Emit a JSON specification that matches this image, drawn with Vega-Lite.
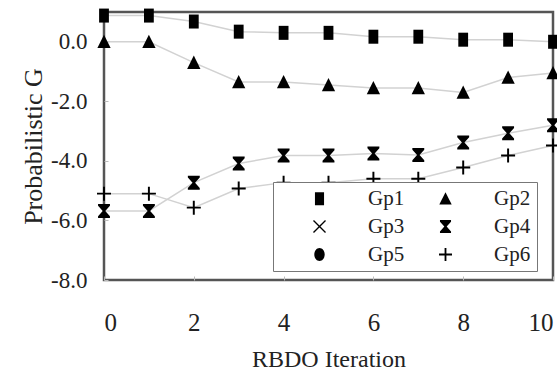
{
  "$schema": "https://vega.github.io/schema/vega-lite/v6.json",
  "width": 449,
  "height": 268,
  "autosize": {"type": "none"},
  "padding": {"left": 104, "top": 12, "right": 4, "bottom": 92},
  "background": "white",
  "config": {
    "view": {"stroke": "#555", "strokeWidth": 2.5},
    "font": "Liberation Serif",
    "axis": {
      "grid": false,
      "domain": false,
      "labelFont": "Liberation Serif",
      "titleFont": "Liberation Serif",
      "labelColor": "#222",
      "titleColor": "#222",
      "titleFontWeight": "normal",
      "tickColor": "#bbb",
      "tickSize": -4,
      "tickWidth": 1
    }
  },
  "data": {
    "values": [
      {"iter": 0, "series": "Gp1", "g": 0.88},
      {"iter": 1, "series": "Gp1", "g": 0.88},
      {"iter": 2, "series": "Gp1", "g": 0.68},
      {"iter": 3, "series": "Gp1", "g": 0.34},
      {"iter": 4, "series": "Gp1", "g": 0.3},
      {"iter": 5, "series": "Gp1", "g": 0.3},
      {"iter": 6, "series": "Gp1", "g": 0.17},
      {"iter": 7, "series": "Gp1", "g": 0.17},
      {"iter": 8, "series": "Gp1", "g": 0.07},
      {"iter": 9, "series": "Gp1", "g": 0.07},
      {"iter": 10, "series": "Gp1", "g": 0.0},
      {"iter": 0, "series": "Gp2", "g": 0.0},
      {"iter": 1, "series": "Gp2", "g": 0.0},
      {"iter": 2, "series": "Gp2", "g": -0.7},
      {"iter": 3, "series": "Gp2", "g": -1.35},
      {"iter": 4, "series": "Gp2", "g": -1.35},
      {"iter": 5, "series": "Gp2", "g": -1.45},
      {"iter": 6, "series": "Gp2", "g": -1.55},
      {"iter": 7, "series": "Gp2", "g": -1.55},
      {"iter": 8, "series": "Gp2", "g": -1.7},
      {"iter": 9, "series": "Gp2", "g": -1.2},
      {"iter": 10, "series": "Gp2", "g": -1.05},
      {"iter": 0, "series": "Gp4", "g": -5.68},
      {"iter": 1, "series": "Gp4", "g": -5.68},
      {"iter": 2, "series": "Gp4", "g": -4.73},
      {"iter": 3, "series": "Gp4", "g": -4.09},
      {"iter": 4, "series": "Gp4", "g": -3.82},
      {"iter": 5, "series": "Gp4", "g": -3.82},
      {"iter": 6, "series": "Gp4", "g": -3.75},
      {"iter": 7, "series": "Gp4", "g": -3.8},
      {"iter": 8, "series": "Gp4", "g": -3.38},
      {"iter": 9, "series": "Gp4", "g": -3.07},
      {"iter": 10, "series": "Gp4", "g": -2.8},
      {"iter": 0, "series": "Gp6", "g": -5.1},
      {"iter": 1, "series": "Gp6", "g": -5.1},
      {"iter": 2, "series": "Gp6", "g": -5.57},
      {"iter": 3, "series": "Gp6", "g": -4.93},
      {"iter": 4, "series": "Gp6", "g": -4.73},
      {"iter": 5, "series": "Gp6", "g": -4.73},
      {"iter": 6, "series": "Gp6", "g": -4.6},
      {"iter": 7, "series": "Gp6", "g": -4.6},
      {"iter": 8, "series": "Gp6", "g": -4.22},
      {"iter": 9, "series": "Gp6", "g": -3.82},
      {"iter": 10, "series": "Gp6", "g": -3.48}
    ]
  },
  "encoding": {
    "x": {
      "field": "iter",
      "type": "quantitative",
      "scale": {"domain": [0, 10], "nice": false, "zero": false},
      "axis": {
        "values": [0, 2, 4, 6, 8, 10],
        "title": "RBDO Iteration",
        "labelFontSize": 25,
        "labelPadding": 34,
        "titleFontSize": 24,
        "titlePadding": 12
      }
    },
    "y": {
      "field": "g",
      "type": "quantitative",
      "scale": {"domain": [-8, 1], "nice": false, "zero": false},
      "axis": {
        "values": [-8, -6, -4, -2, 0],
        "labelExpr": "(datum.value < 0 ? '-' : '') + format(abs(datum.value), '.1f')",
        "title": "Probabilistic G",
        "labelFontSize": 23,
        "labelPadding": 21,
        "titleFontSize": 26,
        "titlePadding": 4
      }
    }
  },
  "layer": [
    {
      "mark": {"type": "line", "color": "#d2d2d2", "strokeWidth": 1.5},
      "encoding": {"detail": {"field": "series"}}
    },
    {
      "mark": {"type": "point", "filled": true, "color": "black", "opacity": 1, "size": 196},
      "encoding": {
        "shape": {
          "field": "series",
          "type": "nominal",
          "scale": {
            "domain": ["Gp1", "Gp2", "Gp3", "Gp4", "Gp5", "Gp6"],
            "range": [
              "M-0.7,-1H0.7V1H-0.7Z",
              "M0,-1L0.95,0.9H-0.95Z",
              "M-0.85,-1L0,-0.15L0.85,-1L1,-0.85L0.15,0L1,0.85L0.85,1L0,0.15L-0.85,1L-1,0.85L-0.15,0L-1,-0.85Z",
              "M-0.85,-1H0.85V-0.75L0.18,0L0.85,0.75V1H-0.85V0.75L-0.18,0L-0.85,-0.75Z",
              "M-0.8,0A0.8,1 0 1,0 0.8,0A0.8,1 0 1,0 -0.8,0Z",
              "M-0.14,-1H0.14V-0.14H1V0.14H0.14V1H-0.14V0.14H-1V-0.14H-0.14Z"
            ]
          },
          "legend": {
            "orient": "none",
            "legendX": 169,
            "legendY": 170,
            "columns": 2,
            "direction": "horizontal",
            "title": null,
            "padding": 6,
            "strokeColor": "#777",
            "fillColor": "white",
            "labelFont": "Liberation Serif",
            "labelFontSize": 21,
            "labelColor": "#222",
            "symbolSize": 169,
            "symbolOffset": 30,
            "labelOffset": 38,
            "columnPadding": 0,
            "rowPadding": 6,
            "symbolOpacity": 1,
            "symbolFillColor": "black"
          }
        }
      }
    }
  ]
}
